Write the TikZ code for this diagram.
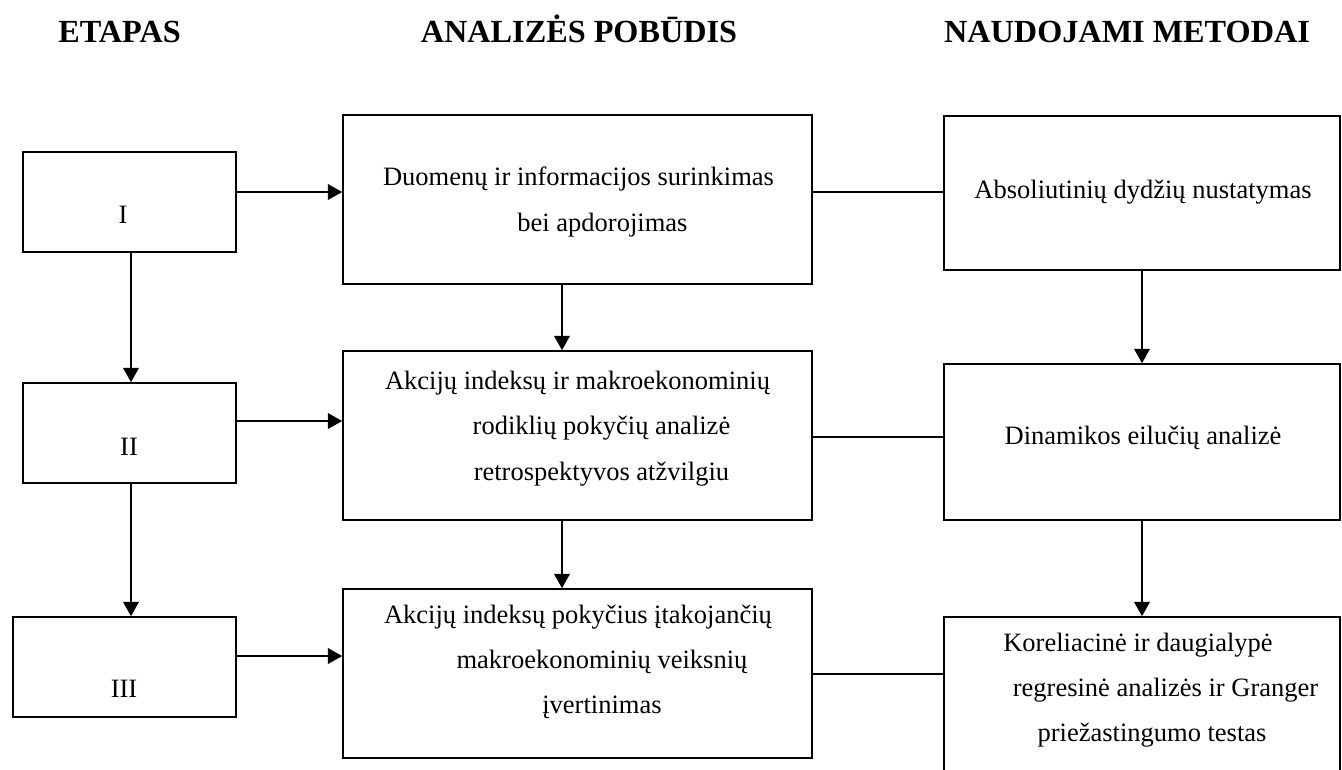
\documentclass[tikz,border=0pt]{standalone}
\usepackage{fontspec}
\setmainfont{Liberation Serif}
\usetikzlibrary{arrows.meta,fit}

\newcommand{\ind}{\hspace*{21.7pt}}

\begin{document}
\begin{tikzpicture}[x=0.4528pt,y=-0.4528pt,
  box/.style={draw,line width=0.7pt,inner sep=0pt},
  txt/.style={inner sep=0pt,align=center,font=\fontsize{12}{20.5}\selectfont},
  head/.style={inner sep=0pt,anchor=base,font=\fontsize{14.6}{16}\selectfont\bfseries},
  arr/.style={line width=0.95pt,-{Triangle[length=6.5pt,width=7pt]}},
  link/.style={line width=0.6pt}]

  \useasboundingbox (0,0) rectangle (1342,769);
  \clip (0,0) rectangle (1342,769);

  % column heads

  \node [head] (hEt) at (119.5,42) {ETAPAS};
  \node [head] (hAn) at (579,42) {ANALIZĖS POBŪDIS};
  \node [head] (hMe) at (1127,42) {NAUDOJAMI METODAI};

  % stages

  \node [box, fit={(23,152) (236,252)}] (I) {};
  \node [box, fit={(23,383) (236,483)}] (II) {};
  \node [box, fit={(13,617) (236,717)}] (III) {};
  \node [txt] (tI) at (123,215) {I};
  \node [txt] (tII) at (129,447) {II};
  \node [txt] (tIII) at (124,689) {III};

  % kind of analysis

  \node [box, fit={(343,115) (812,284)}] (A1) {};
  \node [box, fit={(343,351) (812,520)}] (A2) {};
  \node [box, fit={(343,589) (812,758)}] (A3) {};
  \node [txt] (tA1) at (578.5,202) {Duomenų ir informacijos surinkimas\\
    \ind bei apdorojimas};
  \node [txt] (tA2) at (577.5,428.5) {Akcijų indeksų ir makroekonominių\\
    \ind rodiklių pokyčių analizė\\
    \ind retrospektyvos atžvilgiu};
  \node [txt] (tA3) at (578,662) {Akcijų indeksų pokyčius įtakojančių\\
    \ind makroekonominių veiksnių\\
    \ind įvertinimas};

  % methods used

  \node [box, fit={(944,116) (1340,270)}] (R1) {};
  \node [box, fit={(944,364) (1340,520)}] (R2) {};
  \node [box, fit={(944,617) (1340,790)}] (R3) {};
  \node [txt] (tR1) at (1143,192) {Absoliutinių dydžių nustatymas};
  \node [txt] (tR2) at (1143,438) {Dinamikos eilučių analizė};
  \node [txt] (tR3) at (1138,690) {Koreliacinė ir daugialypė\\
    \hspace*{24.9pt}regresinė analizės ir Granger\\
    \hspace*{12.7pt}priežastingumo testas};

  % connections

  \draw [arr] (131,0 |- I.south) -- (131,0 |- II.north);
  \draw [arr] (131,0 |- II.south) -- (131,0 |- III.north);
  \draw [arr] (I.east |- 0,192) -- (A1.west |- 0,192);
  \draw [arr] (II.east |- 0,421) -- (A2.west |- 0,421);
  \draw [arr] (III.east |- 0,656) -- (A3.west |- 0,656);
  \draw [arr] (562,0 |- A1.south) -- (562,0 |- A2.north);
  \draw [arr] (562,0 |- A2.south) -- (562,0 |- A3.north);
  \draw [arr] (R1) -- (R2);
  \draw [arr] (R2) -- (R3);
  \draw [link] (A1.east |- 0,192) -- (R1.west |- 0,192);
  \draw [link] (A2.east |- 0,437) -- (R2.west |- 0,437);
  \draw [link] (A3.east |- 0,674) -- (R3.west |- 0,674);
\end{tikzpicture}
\end{document}
